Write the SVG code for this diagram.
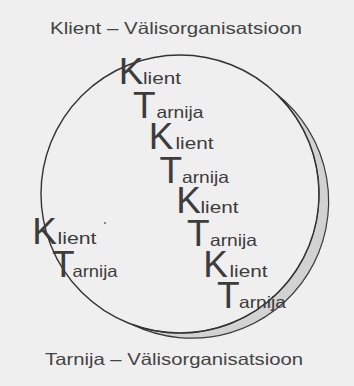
<svg xmlns="http://www.w3.org/2000/svg" width="354" height="386" viewBox="0 0 354 386">
<style>
.t{font-family:"Liberation Sans",Arial,sans-serif;fill:#3c3c3c}
.big{font-size:37px}
.sm{font-size:16.5px}
.title{font-size:16.5px;fill:#444}
.ln{fill:none;stroke:#333;stroke-width:1.4}
</style>
<rect x="0" y="0" width="354" height="386" fill="#efefef"/>
<g id="cycle">
<path d="M276.56 94.01 A139 139 0 0 1 132.46 324.62 A136.78 136.78 0 0 0 276.56 94.01 Z" fill="#d2d2d2" stroke="#3a3a3a" stroke-width="1.2"/>
<circle class="ln" cx="180" cy="194" r="139"/>
</g>
<circle cx="105" cy="223" r="0.9" fill="#555"/>
<g id="title-top"><text class="t title" x="50" y="33.5" textLength="252" lengthAdjust="spacingAndGlyphs">Klient – Välisorganisatsioon</text></g>
<g id="title-bottom"><text class="t title" x="45" y="365" textLength="258" lengthAdjust="spacingAndGlyphs">Tarnija – Välisorganisatsioon</text></g>
<g id="pair1">
<text class="t big" x="118.8" y="84">K</text><text class="t sm" x="143" y="84" textLength="38" lengthAdjust="spacingAndGlyphs">lient</text>
<text class="t big" x="133.1" y="117.5">T</text><text class="t sm" x="156.5" y="117.5" textLength="47" lengthAdjust="spacingAndGlyphs">arnija</text>
</g>
<g id="pair2">
<text class="t big" x="148.8" y="149">K</text><text class="t sm" x="175.5" y="149" textLength="38" lengthAdjust="spacingAndGlyphs">lient</text>
<text class="t big" x="159.6" y="182.5">T</text><text class="t sm" x="182" y="182.5" textLength="47" lengthAdjust="spacingAndGlyphs">arnija</text>
</g>
<g id="pair3">
<text class="t big" x="176.3" y="212.5">K</text><text class="t sm" x="200.5" y="212.5" textLength="38" lengthAdjust="spacingAndGlyphs">lient</text>
<text class="t big" x="187.1" y="245.5">T</text><text class="t sm" x="210" y="245.5" textLength="47" lengthAdjust="spacingAndGlyphs">arnija</text>
</g>
<g id="pair4">
<text class="t big" x="203.3" y="276.5">K</text><text class="t sm" x="229.5" y="276.5" textLength="38" lengthAdjust="spacingAndGlyphs">lient</text>
<text class="t big" x="217.1" y="308">T</text><text class="t sm" x="239" y="308" textLength="47" lengthAdjust="spacingAndGlyphs">arnija</text>
</g>
<g id="pair-left">
<text class="t big" x="32.3" y="244">K</text><text class="t sm" x="57.5" y="244" textLength="39" lengthAdjust="spacingAndGlyphs">lient</text>
<text class="t big" x="52.1" y="277">T</text><text class="t sm" x="72.5" y="277" textLength="45" lengthAdjust="spacingAndGlyphs">arnija</text>
</g>
</svg>
